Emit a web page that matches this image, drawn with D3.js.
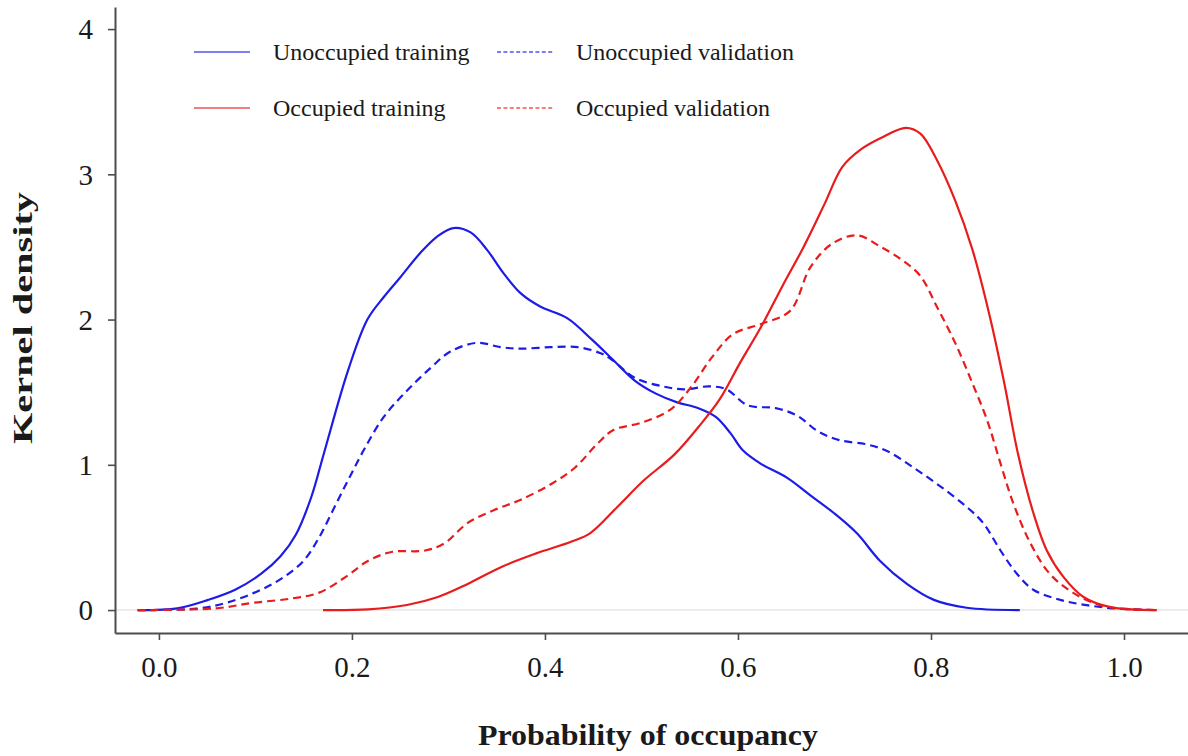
<!DOCTYPE html>
<html>
<head>
<meta charset="utf-8">
<script src="https://cdn.jsdelivr.net/npm/d3@7"></script>
<style>
  html, body { margin: 0; padding: 0; background: #fff; }
  svg { display: block; }
  text { font-family: "Liberation Serif", "Times New Roman", serif; fill: #1a1a1a; }
</style>
</head>
<body>
<svg id="chart" width="1188" height="756"></svg>
<script>
// Kernel density estimates of predicted probability of occupancy
// (x = probability, y = density), one pair of arrays per group.
const unoccTrainX = [-0.022, 0.019, 0.051, 0.079, 0.106, 0.126, 0.142, 0.158, 0.171, 0.196, 0.216, 0.233, 0.250, 0.271, 0.288, 0.305, 0.323, 0.340, 0.357, 0.375, 0.395, 0.423, 0.449, 0.471, 0.493, 0.515, 0.537, 0.559, 0.577, 0.592, 0.605, 0.623, 0.651, 0.675, 0.699, 0.723, 0.747, 0.775, 0.803, 0.837, 0.892];
const unoccTrainY = [0, 0.012, 0.07, 0.14, 0.25, 0.37, 0.52, 0.78, 1.08, 1.65, 2.00, 2.155, 2.29, 2.46, 2.57, 2.63, 2.60, 2.48, 2.32, 2.18, 2.09, 2.01, 1.86, 1.72, 1.58, 1.49, 1.43, 1.39, 1.33, 1.22, 1.10, 1.01, 0.91, 0.79, 0.67, 0.53, 0.34, 0.18, 0.07, 0.016, 0];

const unoccValidX = [-0.022, 0.039, 0.070, 0.106, 0.130, 0.150, 0.166, 0.182, 0.198, 0.213, 0.233, 0.257, 0.282, 0.302, 0.330, 0.354, 0.375, 0.406, 0.434, 0.457, 0.468, 0.493, 0.522, 0.544, 0.570, 0.588, 0.610, 0.639, 0.661, 0.683, 0.705, 0.734, 0.756, 0.782, 0.810, 0.837, 0.854, 0.872, 0.889, 0.906, 0.934, 0.961, 0.992, 1.034];
const unoccValidY = [0, 0.01, 0.05, 0.14, 0.23, 0.34, 0.50, 0.71, 0.92, 1.11, 1.33, 1.51, 1.67, 1.78, 1.84, 1.81, 1.80, 1.81, 1.81, 1.77, 1.73, 1.60, 1.54, 1.52, 1.54, 1.52, 1.41, 1.39, 1.34, 1.23, 1.17, 1.14, 1.09, 0.98, 0.85, 0.71, 0.60, 0.41, 0.25, 0.14, 0.07, 0.034, 0.01, 0];

const occTrainX = [0.170, 0.217, 0.257, 0.289, 0.320, 0.356, 0.391, 0.427, 0.447, 0.475, 0.502, 0.534, 0.559, 0.581, 0.602, 0.624, 0.646, 0.668, 0.690, 0.708, 0.727, 0.748, 0.774, 0.789, 0.806, 0.825, 0.843, 0.861, 0.876, 0.890, 0.906, 0.920, 0.937, 0.958, 0.986, 1.034];
const occTrainY = [0, 0.005, 0.035, 0.09, 0.18, 0.30, 0.39, 0.47, 0.53, 0.71, 0.89, 1.07, 1.26, 1.45, 1.70, 1.95, 2.23, 2.50, 2.80, 3.05, 3.17, 3.25, 3.32, 3.28, 3.10, 2.82, 2.48, 2.02, 1.56, 1.08, 0.67, 0.41, 0.23, 0.09, 0.02, 0];

const occValidX = [-0.022, 0.059, 0.098, 0.138, 0.166, 0.194, 0.217, 0.241, 0.276, 0.296, 0.320, 0.348, 0.375, 0.407, 0.431, 0.455, 0.471, 0.500, 0.530, 0.552, 0.573, 0.595, 0.624, 0.654, 0.675, 0.697, 0.723, 0.748, 0.770, 0.789, 0.806, 0.825, 0.843, 0.858, 0.872, 0.885, 0.903, 0.923, 0.947, 0.975, 1.009, 1.034];
const occValidY = [0, 0.012, 0.05, 0.08, 0.12, 0.23, 0.34, 0.40, 0.41, 0.46, 0.60, 0.69, 0.76, 0.87, 0.98, 1.15, 1.24, 1.29, 1.38, 1.54, 1.74, 1.90, 1.97, 2.06, 2.36, 2.52, 2.58, 2.50, 2.41, 2.30, 2.09, 1.84, 1.56, 1.31, 1.01, 0.74, 0.46, 0.25, 0.12, 0.034, 0.005, 0];

const xTicks = [0, 0.2, 0.4, 0.6, 0.8, 1.0];
const yTicks = [0, 1, 2, 3, 4];
const seriesNames = ["Unoccupied training", "Unoccupied validation", "Occupied training", "Occupied validation"];

const BLUE = "#1c1ce6";
const RED = "#e81c1c";

const series = [
  { name: seriesNames[0], xs: unoccTrainX, ys: unoccTrainY, color: BLUE, dashed: false },
  { name: seriesNames[1], xs: unoccValidX, ys: unoccValidY, color: BLUE, dashed: true },
  { name: seriesNames[2], xs: occTrainX, ys: occTrainY, color: RED, dashed: false },
  { name: seriesNames[3], xs: occValidX, ys: occValidY, color: RED, dashed: true }
];

const svg = d3.select("#chart");

const x = d3.scaleLinear().domain([-0.0455, 1.0663]).range([115, 1188]);
const y = d3.scaleLinear().domain([-0.158, 4.152]).range([633, 7]);

// zero reference line
svg.append("line")
  .attr("x1", x.range()[0]).attr("x2", x.range()[1])
  .attr("y1", y(0)).attr("y2", y(0))
  .attr("stroke", "#e6e6e6").attr("stroke-width", 1.6);

// axes
const axisColor = "#4d4d4d";
const gx = svg.append("g")
  .attr("transform", `translate(0,${y.range()[0]})`)
  .call(d3.axisBottom(x).tickValues(xTicks).tickFormat(d3.format(".1f")).tickSize(7).tickSizeOuter(0).tickPadding(16));
const gy = svg.append("g")
  .attr("transform", `translate(${x.range()[0]},0)`)
  .call(d3.axisLeft(y).tickValues(yTicks).tickFormat(d3.format("d")).tickSize(7).tickSizeOuter(0).tickPadding(15));

[gx, gy].forEach(g => {
  g.select(".domain").attr("stroke", axisColor).attr("stroke-width", 2);
  g.selectAll(".tick line").attr("stroke", axisColor).attr("stroke-width", 1.6);
  g.selectAll(".tick text")
    .attr("font-family", "'Liberation Serif', 'Times New Roman', serif")
    .attr("font-size", 29)
    .attr("fill", "#1a1a1a");
});
gy.selectAll(".tick text").attr("dy", "0.34em");

// density curves
const line = d3.line()
  .x(d => x(d[0]))
  .y(d => y(Math.max(0, d[1])))
  .curve(d3.curveCatmullRom.alpha(0.5));

svg.append("g").selectAll("path")
  .data(series)
  .join("path")
  .attr("d", s => line(d3.zip(s.xs, s.ys)))
  .attr("fill", "none")
  .attr("stroke", s => s.color)
  .attr("stroke-width", 2.2)
  .attr("stroke-dasharray", s => s.dashed ? "8,5" : null)
  .attr("stroke-linejoin", "round");

// legend
const legendCols = [194, 497];
const legendRows = [52, 108];
const legend = svg.append("g");
series.forEach((s, i) => {
  const col = i % 2, row = Math.floor(i / 2);
  const lx = legendCols[col], ly = legendRows[row];
  legend.append("line")
    .attr("x1", lx).attr("x2", lx + 56)
    .attr("y1", ly).attr("y2", ly)
    .attr("stroke", s.color)
    .attr("stroke-opacity", 0.75)
    .attr("stroke-width", 1.3)
    .attr("stroke-dasharray", s.dashed ? "4,2.4" : null);
  legend.append("text")
    .attr("x", lx + 79).attr("y", ly)
    .attr("dy", "0.32em")
    .attr("font-size", 24)
    .text(s.name);
});

// axis titles
svg.append("text")
  .attr("x", 648).attr("y", 745)
  .attr("text-anchor", "middle")
  .attr("font-size", 30)
  .attr("font-weight", "bold")
  .attr("textLength", 340)
  .attr("lengthAdjust", "spacingAndGlyphs")
  .text("Probability of occupancy");

svg.append("text")
  .attr("transform", "translate(32,318) rotate(-90)")
  .attr("text-anchor", "middle")
  .attr("font-size", 28)
  .attr("font-weight", "bold")
  .attr("textLength", 252)
  .attr("lengthAdjust", "spacingAndGlyphs")
  .text("Kernel density");
</script>
</body>
</html>
